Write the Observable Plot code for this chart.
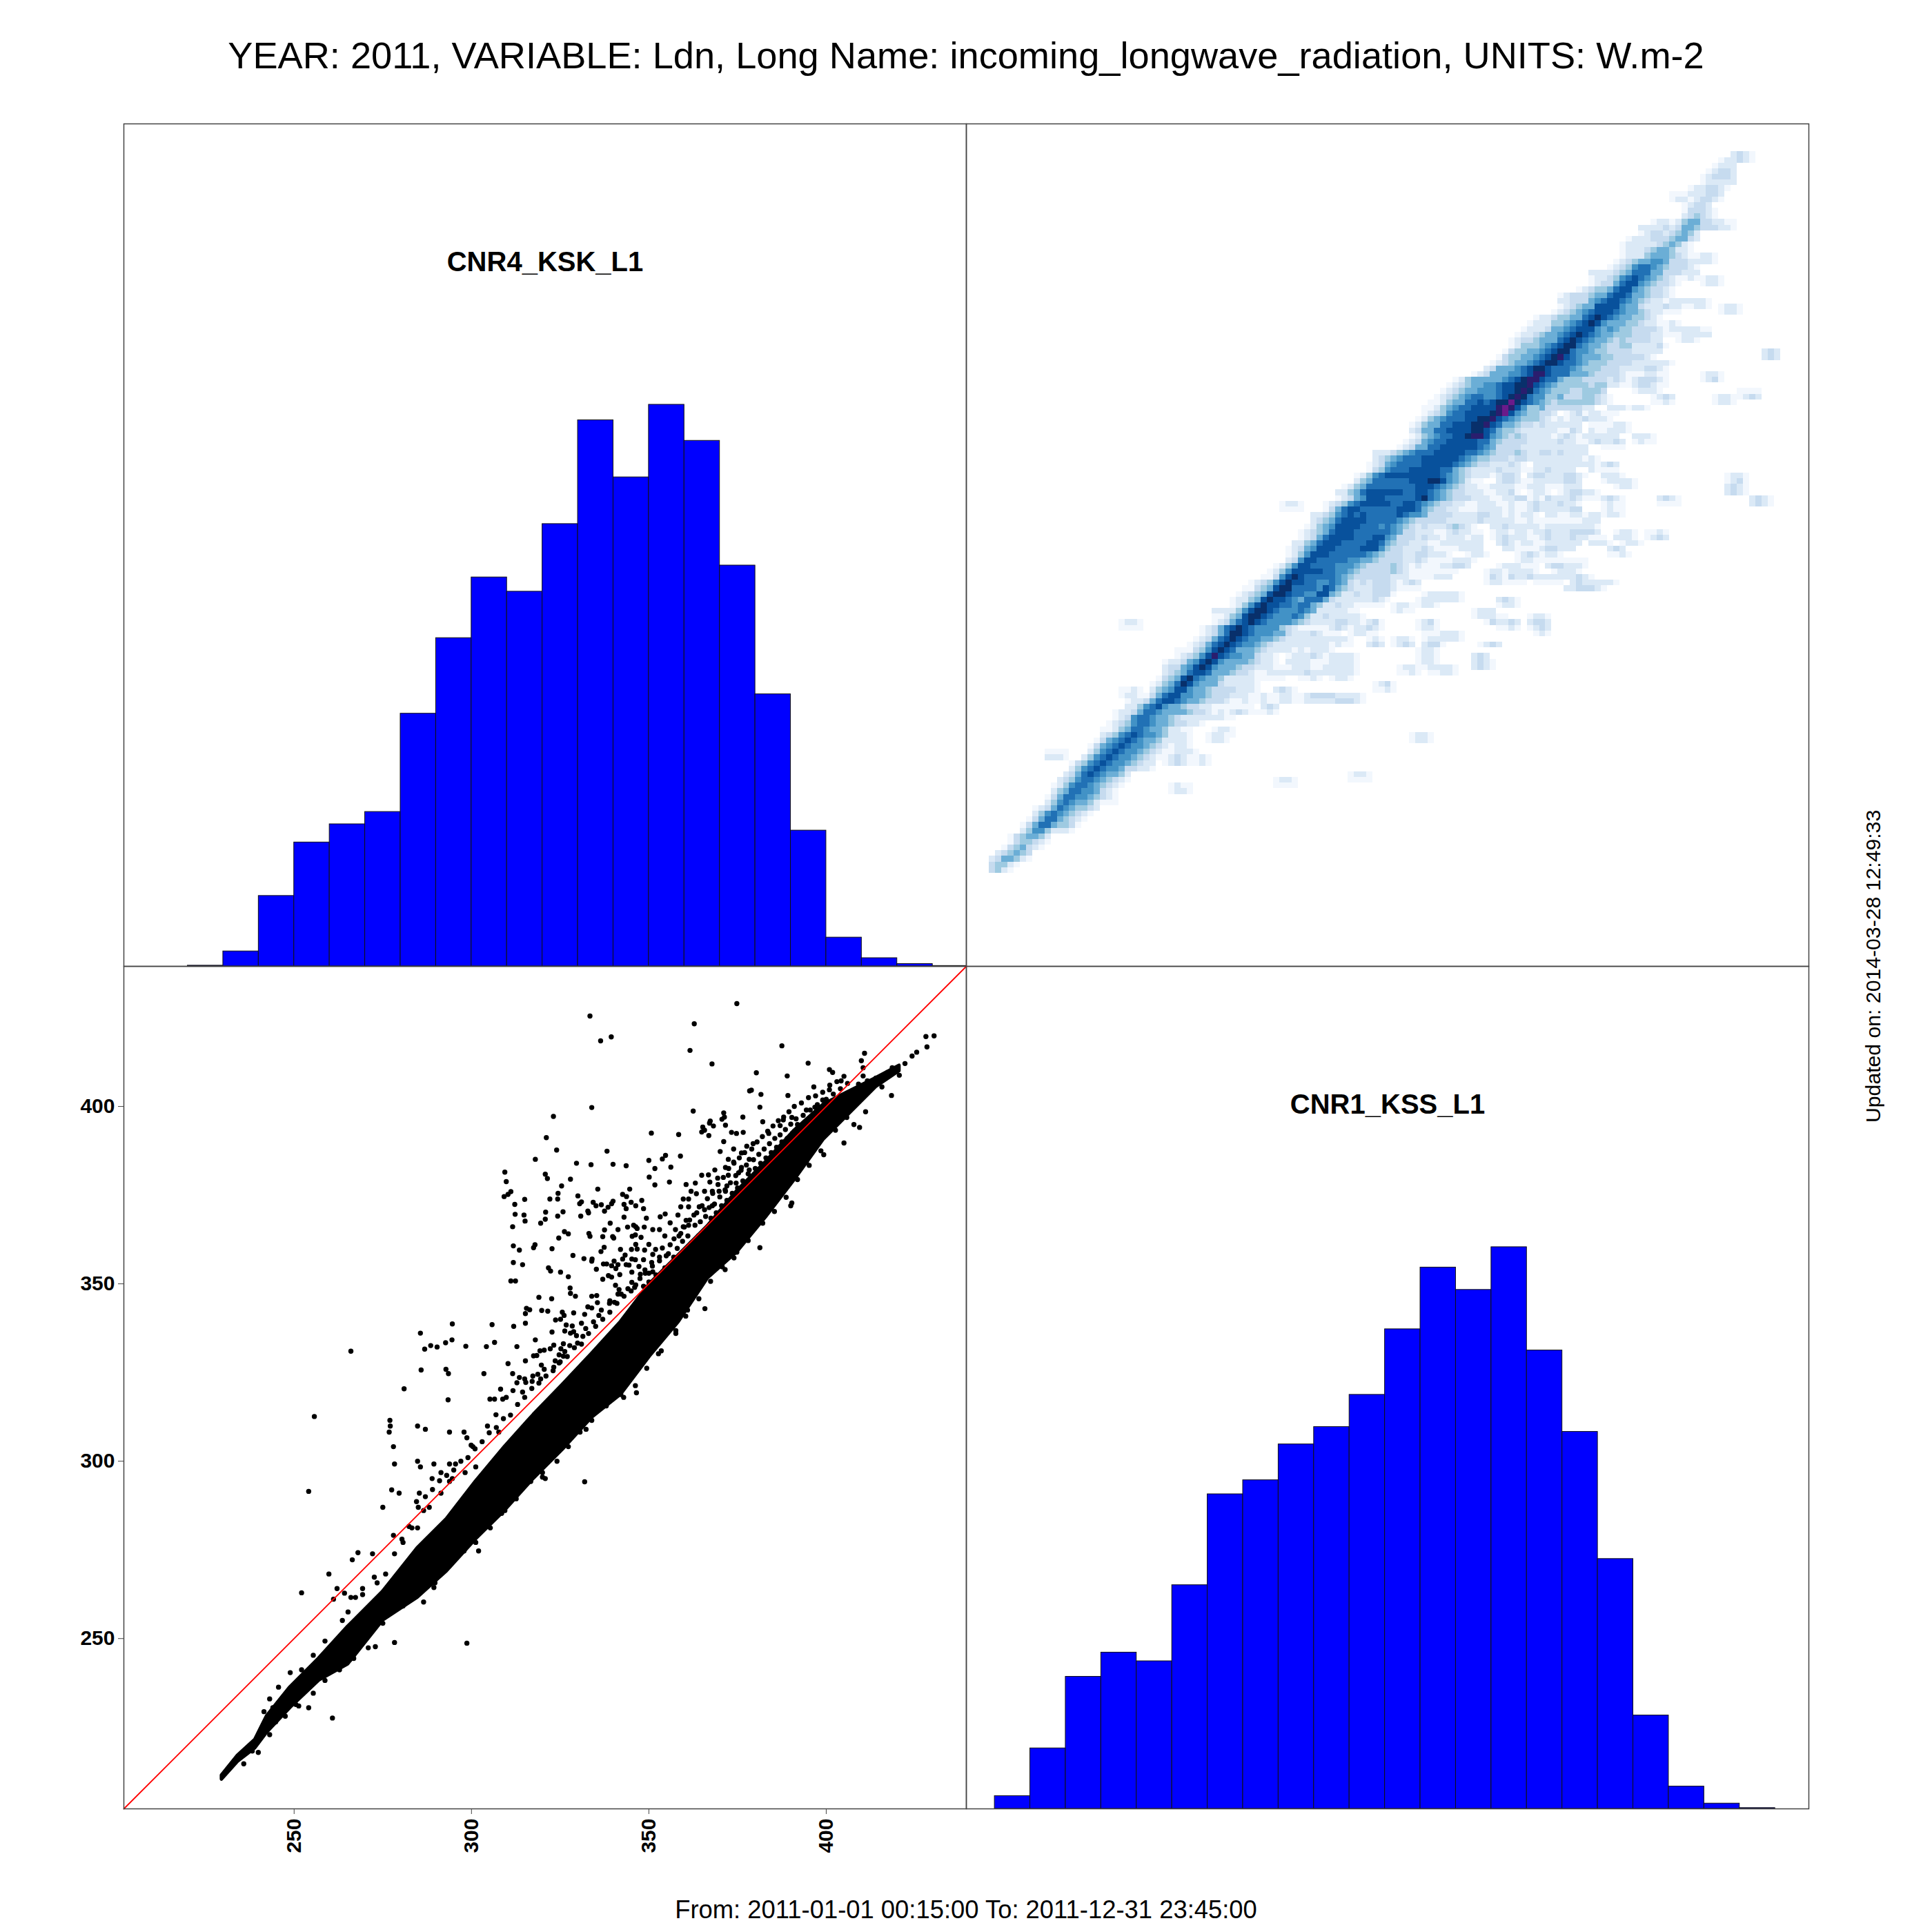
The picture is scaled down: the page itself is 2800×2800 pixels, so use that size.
<!DOCTYPE html>
<html>
<head>
<meta charset="utf-8">
<script src="https://cdn.jsdelivr.net/npm/d3@7"></script>
<script src="https://cdn.jsdelivr.net/npm/@observablehq/plot@0.6"></script>
<style>
  body { margin: 0; background: white; font-family: "Liberation Sans", sans-serif; }
  #page { position: relative; width: 2800px; height: 2800px; overflow: hidden; }
  #page svg { position: absolute; }
  .note { position: absolute; color: black; white-space: nowrap; }
</style>
</head>
<body>
<div id="page"></div>
<script>
// shared value range of both instruments, W.m-2
const valueDomain = [202, 439.5]
const tickValues = [250, 300, 350, 400]

const titleText = 'YEAR: 2011, VARIABLE: Ldn, Long Name: incoming_longwave_radiation, UNITS: W.m-2'
const periodText = 'From: 2011-01-01 00:15:00 To: 2011-12-31 23:45:00'
const updatedText = 'Updated on: 2014-03-28 12:49:33'

// histograms
const kskBins = [220,230,240,250,260,270,280,290,300,310,320,330,340,350,360,370,380,390,400,410,420,430]
const kskCounts = [5,100,469,825,946,1028,1682,2185,2589,2494,2944,3635,3255,3738,3498,2668,1811,904,192,55,16,3]
const kssBins = [210,220,230,240,250,260,270,280,290,300,310,320,330,340,350,360,370,380,390,400,410,420]
const kssCounts = [77,363,792,937,885,1341,1886,1970,2185,2289,2482,2875,3245,3111,3367,2748,2260,1498,560,134,32,5]

// scatter: envelope of the solid part of the cloud
const cloudX = [229.6,234.1,239,242.3,248.9,257,265.2,275,284.8,293,301.2,309.4,317.5,325.7,333.9,342.1,350.2,358.4,366.6,374.8,382.9,391.1,399.3,405.8,414,420.6]
const cloudLow = [210.3,215.3,219.1,223.5,230.5,238.2,242.8,255.1,261.6,269,278,286.1,295.1,303.3,312.3,318.8,329.5,339.3,351.6,358.9,368.7,379.4,390.8,397.3,405.5,410]
const cloudHigh = [211.4,217,221.5,228.1,236.3,244.4,253.4,263.2,275.5,283.7,294.3,304.1,313.1,321.6,330.3,339.3,349.9,358.1,366.3,376.1,384.3,393.3,400.6,403.9,408,411.5]

// scatter: single points outside the solid cloud [KSS, KSK]
const loosePoints = [
[333.4,425.5],[336.4,418.5],[339.4,419.6],[374.8,429],[362.8,423.3],[361.6,415.8],[367.8,412],[380.3,409.5],[378.9,404.6],[333.9,399.7],
[362.5,398.7],[323.1,397.2],[371.1,398.2],[371.3,397],[370.6,396.4],[376.5,397],[367.3,395.9],[367.1,395.3],[371.6,394.7],[368.2,394.5],
[365.2,394.2],[365.7,393.3],[364.9,392.8],[350.7,392.5],[358.4,392.1],[366.9,391.8],[373.3,392.7],[374.7,392.4],[376.6,392.7],[321.1,391.2],
[371.1,390.1],[324,387.7],[338.2,387.4],[318,385.1],[358.9,386],[354.7,386.2],[353.8,385.2],[350,384.8],[329.6,384],[333.7,383.6],
[339.9,383.7],[343.6,383.3],[356.2,382.9],[351.7,382.5],[309.4,381.5],[320.8,380.9],[321.4,379.7],[327.9,379.5],[350.1,380.1],[355.8,378.7],
[309.8,378.8],[325.4,377.6],[351.7,377.9],[335.6,376.7],[344.6,376.7],[311.1,376],[310.3,375.2],[309.2,374.6],[324.4,375.5],[322.1,373.9],
[324.3,373.9],[315,373.8],[330,374.8],[312.2,372.4],[342.6,375.2],[343.7,374.6],[331,373.1],[330.5,372.6],[334.3,373],[335.1,372],
[336.6,372.3],[339.9,373.3],[339.5,372.6],[338.5,371.6],[343,372.4],[345,373],[348,373.5],[346.3,372],[343.6,371.2],[348.5,371.2],
[337.5,370.5],[325.8,370.3],[320.9,370.2],[332.8,370.5],[333,370],[312.3,369.6],[314.8,369.4],[330.8,369.1],[324.3,369.1],[343,368.8],
[349.3,368.5],[353.2,368.9],[354.6,369.7],[320.8,368.2],[315.1,367.7],[319.5,367.1],[339.1,367.1],[311.6,366.1],[344,366],[346.3,366.1],
[348.7,366],[345.7,366.5],[346.7,365.6],[337.5,365.2],[341.3,365.3],[326.2,364.7],[327.3,364.1],[333.1,364.2],[333.4,363.4],[337,363.3],
[339.8,363.3],[340.1,362.9],[346.2,363.8],[345.3,363.4],[347.8,363.1],[324.6,362.9],[311.8,360.7],[317.9,361],[317.5,360.2],[313.5,359.5],
[322.7,359.9],[337.4,360.3],[342,359.7],[346.3,361.1],[345.1,359.7],[346.7,359.8],[348.8,359.5],[350,361.1],[336.5,359.1],[343.3,358.1],
[328.6,358],[331.7,357.1],[334,357],[333.9,356.4],[342.6,357],[345.2,357],[346.2,356.8],[311.8,356],[314.4,355.4],[340.2,356.4],
[341.3,355.4],[337.2,355.6],[338.1,355.6],[339.5,355.1],[343.6,355.4],[344.4,355.3],[321.7,354.5],[322.3,353.6],[335.2,354.1],[340.7,354.3],
[347.2,354.9],[348.9,353.9],[325.1,353.3],[345.2,353.3],[347.6,352.7],[341.8,352.6],[327.3,352],[338.6,352.3],[339.5,351.9],[337,351.3],
[311.1,350.8],[312.4,350.8],[340.6,349.6],[327.8,348.8],[341.6,348.4],[327.9,347.3],[329.3,346.5],[333.9,346.5],[335.3,346.7],[341.3,347.1],
[342.2,347.1],[319,346.2],[322.6,345.8],[339,345.2],[335.5,344.7],[332.8,343.5],[333.9,343.2],[315.5,343.1],[316.4,342.7],[319.8,342.5],
[321.5,342.3],[325.6,342],[315.2,341.6],[328.8,341.8],[326.1,341.1],[331.9,341.4],[323.7,339.8],[325.1,340],[331,338.9],[315.2,338.9],
[326.7,338.4],[328.4,338.1],[311.9,338],[305.8,338.5],[294.6,338.7],[285.6,336.1],[326.3,336.7],[322.7,336.4],[327.9,336.1],[328.8,336.5],
[329.6,335.4],[294.5,334.2],[292.7,333.4],[318,334.2],[306.5,333.5],[288.5,332.6],[290.3,332.2],[286.8,331.6],[298.4,332.4],[304.2,332.3],
[312.8,332.3],[266,331],[323.2,332.7],[325.9,333.1],[327.7,332.6],[325.2,331.7],[322.2,331.7],[320.5,331.3],[319.3,331.1],[326.3,330.9],
[317.5,329.7],[318.4,329.8],[324.7,330],[325.9,329.6],[315.2,328.3],[323.6,328.3],[324.7,327.7],[310.3,327.5],[319.7,327.1],[285.8,325.7],
[292.8,325.9],[293.5,324.7],[303.5,324.7],[311.6,324.7],[320.5,325.9],[323.2,326.5],[281,320.4],[313.5,323.6],[315,323.2],[317.3,324],
[318.7,324.5],[312.8,322.1],[315.3,322.2],[317.1,322.5],[319.5,323.2],[308.2,320.3],[311.7,319.9],[314.4,319.5],[293.4,317.3],[305.2,317.5],
[306.5,317.5],[308.8,317.5],[309.8,318],[360.5,378],[363.1,378.4],[361.9,376.1],[364.9,380.6],[366.8,380.7],[368.6,382.1],[367.2,378.7],
[359.7,373.9],[361.2,373.9],[363.4,375.4],[365.7,376.1],[359,371.7],[361.2,371.7],[364.2,371.7],[367.9,372],[365.7,370.9],[358.2,369.4],
[360.5,367.9],[362.7,369.4],[356,367.2],[357.5,365.3],[359.7,366.1],[354.5,363.5],[357.1,362.7],[359,364.2],[361.2,366.5],[353,365.3],
[351.1,365.3],[353.8,360.1],[351.1,358.3],[353,357.5],[351.9,359.7],[354.9,357.9],[350.8,356],[348.5,356.8],[350,353],[351.1,353.4],
[345.2,350.4],[346.3,349.7],[348.5,349.3],[344.1,348.6],[370.1,387.3],[372.4,385.1],[373.9,388],[376.1,386.9],[377.6,388.8],[379.4,389.5],
[371.6,382.8],[373.9,384.3],[376.1,382.8],[378.3,385.1],[369.4,379.8],[372.4,380.6],[375.3,381.3],[378.3,382.1],[371.6,376.1],[367.9,376.1],
[369.8,376.1],[372,377.6],[377.6,378.4],[374.6,378.4],[335.9,341.1],[334.4,339.3],[332.2,337.4],[331.4,335.2],[329.9,333.3],[336.6,342.6],
[338.9,344.5],[340.3,344.8],[387.5,417.1],[394.9,412.2],[389,408.6],[381.6,403.4],[378.4,404.4],[389.2,403.1],[400.9,410.4],[401.8,409.6],
[410.8,415],[409.9,412.9],[410.4,410.9],[410.4,408.6],[404.2,407.2],[409.1,406.3],[399,401.8],[400.9,404.7],[396.5,405.5],[381.3,399.8],
[394.4,399],[387.9,396.2],[390.3,396.9],[382.1,395.7],[387,394.6],[396.8,399.8],[391.9,394.9],[383.8,392.4],[430.4,419.9],[428.1,419.7],
[428.4,416.8],[425.5,415.3],[424.2,414.2],[422.2,412.1],[418.6,410.9],[420.6,408.8],[417.3,409.6],[414,408],[411.6,407.2],[415.7,405.5],
[418.4,403.1],[411.1,398.5],[405,389.7],[407.8,394.9],[409.4,394.1],[399.3,386.4],[394.4,384.3],[391.9,381.8],[390.3,372.8],[390,372],
[381.3,360.2],[377.2,363],[374,357.3],[371.5,354],[365.8,343],[360.4,340.9],[357.6,336],[352.7,330.3],[346.5,319.3],[342.9,318],
[334.7,313.9],[332.3,309],[331.9,294.2],[320.8,295.1],[320,295.5],[327.3,305.8],[309.4,286.1],[305.3,282.9],[302,274.7],[291.4,268.6],
[289.4,264.4],[286.5,260.3],[280.7,259.2],[278.3,248.9],[272.9,247.7],[298.7,248.7],[260.8,227.6],[254.1,230.5],[250.5,231.4],[244.8,226.5],
[238.2,218.3],[252.1,262.9],[259.8,268.2],[261.1,261.1],[262.1,264.1],[264.2,262.8],[266,261.6],[267.3,261.6],[268,274.2],[266.4,272.2],
[272.1,273.9],[273.4,265.7],[269.3,262.4],[275,287],[277.5,291.9],[279.6,291],[278,279.1],[280.4,278],[284.5,288.6],[285.3,291],
[282.4,281.6],[284.8,281.2],[286.5,286.1],[288.9,295.1],[291.4,296.8],[293.8,294.3],[295.5,299.2],[300.4,304.1],[298.2,296.8],[293.8,299.2],
[289.4,299.2],[284.8,300],[285.6,298.4],[278.3,299.2],[278,304.1],[277,311.5],[277.1,309.9],[276.8,308.2],[284.8,309.9],[287,309],
[255.7,312.6],[254.1,291.5],[304.5,309.9],[297.9,308.2],[299.9,304.5],[298.7,306.6],[293.8,308.2],[306.9,313.1],[307.7,308.2],[301.2,298.4],
[294.6,295.1],[291.4,291],[288.1,287],[283.2,281.2],[280.7,277.1],[278.3,273.9],[275.8,268.2],[272.6,267.3],[269.3,264.1],[265.2,257.5],
[263.6,255.1],[258.7,249.3],[255.4,245.3],[252.1,241.2],[248.9,240.4],[245.6,236.3],[243.1,233],[241.5,229.4],[244,230.5]
]

// scatter: lower fringe of the cloud
const lowerFringe = [
[235.8,214.7],[239.9,217.9],[243.1,222.9],[247.5,228.1],[251.3,231],[255.4,234.6],[258.7,238.2],[262.8,241.2],[266.8,244.4],[270.9,247.4],
[275,254.3],[278.3,258.3],[282.4,260.8],[285.6,263.2],[289.7,265.7],[293.8,270.6],[297.9,274.7],[301.2,277.1],[305.3,281.2],[308.5,285.3],
[312.6,289.4],[316.7,294.3],[320,296.8],[324.1,300],[327.3,304.1],[330.6,308.2],[333.9,311.5],[338,315.6],[342.1,318.8],[346.2,321.3],
[349.4,326.2],[353.5,331.1],[357.6,336.8],[360.9,342.6],[364.1,345.8],[367.4,350.7],[370.7,354.8],[374.8,358.9],[378,362.2],[382.1,367.1],
[385.4,370.4],[388.7,374.4],[391.9,379.4],[395.2,383.4],[398.5,387.5],[402.6,393.3],[405.8,396.9]
]

// scatter: dense speckle just above the 1:1 line
const upperFringe = [
[285,287],[287,290],[289,292],[291,294.5],[293,296],[295,297.5],[297,300],[299,301],[301,303.5],[303,305.5],[305,308],[307,309.5],
[309,312],[311,313],[313,316],[315,318],[317,320.5],[319,322],[321,324],[323,325.5],[325,328],[327,329.5],[329,332],[331,333],
[333,336],[335,338],[337,340],[339,342],[341,344.5],[343,346.5],[345,348],[346,349],[347.5,351.5],[349,353],[350,350.5],[351,355],
[352,352.5],[353,356.5],[354.5,354.5],[355.5,358.5],[356,361],[357,357.5],[358,360],[358.5,363.5],[359.5,362],[360,366],[361,363.5],
[361.5,368],[362,361.5],[363,366.5],[363.5,370],[364,363.5],[364.5,367.5],[365,372],[366,369],[366.5,374],[367,371.5],[367.5,368.5],
[368,375.5],[368.5,372.5],[369,370],[369.5,378],[370,374.5],[370.5,372],[371,380],[371.5,376.5],[372,373.5],[372.5,382.5],[373,378.5],
[373.5,375.5],[374,384],[374.5,380.5],[375,377],[375.5,385.5],[376,382],[376.5,379],[377,387],[377.5,383.5],[378,381],[378.5,379.5],
[379,388],[379.5,385],[380,382.5],[380.5,390],[381,386.5],[381.5,384],[382,391.5],[382.5,388],[383,385.5],[383.5,393],[384,389.5],
[384.5,387],[385,394.5],[385.5,391],[386,388.5],[386.5,396],[387,392],[387.5,390],[388,397],[388.5,393.5],[389,391],[389.5,398.5],
[390,395],[390.5,392.5],[391,400],[391.5,396.5],[392,394],[393,401],[393.5,397.5],[394,395.5],[395,402.5],[395.5,399],[396,397],
[397,403],[397.5,400.5],[398,398.5],[399,404],[400,402],[401,406],[402,403.5],[403,407],[404,405],[405,408.5],[406,406.5]
]

// density image: 128 x 128 grid, one hex digit per cell = colour level, 0 = empty
const gridStartX = 208.42
const gridStartY = 228.26
const gridStepX = 1.743
const gridStepY = 1.589
const densityLevels = [1,2,3,4,5,6,7,8,9,10,11]
const densityColors = ['#f2f7fd','#dbe9f6','#c6dbef','#9ecae1','#6baed6','#4292c6','#2171b5','#08519c','#08306b','#2a1e6e','#6a1b8a']

// [row from bottom, first column, levels]
const densityRows = [
[0,0,'3421'],[1,0,'34421'],[2,0,'2355421'],[3,1,'234543'],[4,2,'1345321'],[5,3,'1344321'],[6,3,'1345542'],
[7,5,'246642221'],[8,5,'1357754431'],[9,6,'1357754321'],[10,7,'2467654321'],[11,7,'12357654432'],
[12,9,'246765542111'],[13,9,'135776654321'],
[14,10,'24577665321'],[14,29,'1221'],
[15,10,'124677654321'],[15,29,'1211'],[15,46,'1111'],
[16,11,'234677654321'],[16,46,'1221'],[16,58,'1111'],
[17,12,'23578765542'],[17,58,'1221'],
[18,13,'24678766533221'],
[19,13,'13467876654322012321121'],
[20,9,'2221'],[20,15,'246787665432112321121'],
[21,9,'1111'],[21,16,'246787665432112221'],
[22,16,'13567876654321221'],
[23,17,'1356787655422221'],[23,35,'1221'],[23,68,'1221'],
[24,18,'234678766542221'],[24,35,'12211'],[24,68,'1221'],
[25,18,'112457765542211'],[25,36,'1221'],
[26,19,'1234677655433221'],
[27,20,'12367765543222222211'],
[28,20,'122357765555433212123211121'],
[29,22,'224678655433221111111'],[29,44,'232'],
[30,22,'122357887655433321121'],[30,43,'121122112222233321'],
[31,21,'1221135788665543332221'],[31,43,'121122112333322221'],
[32,21,'1121024568865543333222'],[32,43,'1002321'],[32,62,'1121'],
[33,26,'12457986555322222'],[33,43,'1'],[33,62,'1231'],
[34,27,'1345897655422222'],[34,43,'1111100112101221'],
[35,28,'234578875554332'],[35,43,'11222222322222221'],[35,66,'1121'],[35,71,'11221'],
[36,28,'233568986555433'],[36,43,'22211122211222221'],[36,66,'1221122221'],[36,78,'2321'],
[37,28,'122356898655554'],[37,43,'32210222211122221'],[37,69,'1221'],[37,78,'2321'],
[38,30,'123468a87665532210122232122221'],[38,69,'1221'],[38,78,'232'],
[39,30,'11134689875554322221212221'],[39,69,'1221'],
[40,32,'123578987665432222222221211'],[40,61,'232'],[40,65,'1232'],[40,70,'2331'],[40,79,'1232'],
[41,33,'12357898766554322222222221'],[41,61,'121'],[41,65,'1221'],[41,70,'1222221'],
[42,34,'12357998766655322232111012211'],[42,70,'1112221'],[42,88,'121'],
[43,21,'1111'],[43,34,'123578987666643211111232122321'],[43,69,'1221'],[43,82,'1121'],[43,87,'1232'],
[44,21,'1221'],[44,36,'1235789876666543222233221231'],[44,69,'1231'],[44,80,'132232'],[44,87,'2332'],
[45,36,'1124589987666764223222221'],[45,78,'122211'],[45,87,'1221'],
[46,36,'222246899876667652222211'],[46,65,'1211'],[46,78,'1222'],
[47,39,'1246898877677542232211111'],[47,65,'12211221'],[47,82,'1221'],
[48,39,'12245898876577753222222321'],[48,69,'12222221'],[48,82,'2321'],
[49,40,'12345899877668854223223331'],[49,70,'1222221'],
[50,41,'11345899777768754322233321111'],[50,93,'2233321'],
[51,42,'1234689887766765323233321232'],[51,80,'1221111011111023222221'],
[52,44,'1136898777776543333332221111222'],[52,80,'132132232222222321'],
[53,45,'1246888887766543333343211111111'],[53,80,'1221222210012221'],
[54,46,'12468877776665433334321211122332'],[54,82,'122211102332221'],
[55,48,'2368877777665543333223211112221'],[55,85,'122111111111'],
[56,48,'124688877777765433322332221001221'],[56,85,'12321221'],[56,100,'1121'],
[57,48,'12356888777788864332223211112222'],[57,83,'221111233222'],[57,100,'232'],
[58,49,'2245788877778875433222112222222'],[58,82,'23212211222222'],[58,97,'222101221'],
[59,50,'1235788887778865333232212221220123222112322232'],[59,96,'21110222101232'],
[60,50,'1234578887777776533222112322110122122122322233'],[60,96,'33200122101121'],
[61,51,'124568888777676543232223432100223222221222222'],[61,96,'221'],
[62,52,'23457888877777654333332222232222211211111111'],[62,96,'222'],
[63,52,'22346787877777876653333222233221212210221122'],[63,96,'1221221'],
[64,47,'1111'],[64,54,'135788777777888754332211122221211232222233'],[64,99,'1211'],
[65,47,'1221'],[65,54,'123467888887788765433221122211211232223221'],[65,99,'1211'],[65,108,'1111'],[65,123,'2321'],
[66,56,'12356888777778976543332221122331213222321'],[66,97,'112321'],[66,108,'2321'],[66,123,'2321'],
[67,56,'22457888888778876543322211223101221012332'],[67,96,'221'],[67,119,'2321'],
[68,57,'124577777777888765432211222211222111222'],[68,101,'1221'],[68,119,'2321'],
[69,59,'2457777778889986542110023321122222332'],[69,99,'122221'],[69,119,'1231'],
[70,59,'12467888888888765432221233202332223321'],[70,99,'2221'],[70,119,'1221'],
[71,61,'13467778888877543222232221122322 22'.split(' ').join('')],[71,97,'21111'],
[72,61,'12356777788888765433222321022222222'],[72,96,'221232'],
[73,62,'23456777888888765443332332222222221'],[73,97,'21'],
[74,62,'22234567778888877654333432233232222'],
[75,66,'1235577888888765333322222222222'],[75,99,'1111'],
[76,67,'123567788888775433332222232211'],[76,97,'232232'],[76,104,'1211'],
[77,68,'1245677889aa8654343222212321'],[77,96,'222222'],[77,104,'2221'],
[78,68,'2355778888998754432222221132'],[78,97,'2112221'],
[79,68,'124557788899a875543323222222'],[79,97,'1111221'],
[80,69,'124567778899a876544432121223'],[80,97,'2221'],
[81,70,'123467788889ab8654433201231'],[81,97,'22111'],
[82,70,'112456778888aba86445333333 22'.split(' ').join('')],[82,100,'2221221'],
[83,71,'1124557787899b9876543444444321'],[83,107,'1121'],[83,117,'1221'],
[84,72,'1234567766789a976644533344321'],[84,107,'1232'],[84,117,'12211232'],
[85,73,'1234556667889a9765444334443'],[85,104,'12221'],[85,121,'1111'],
[86,74,'1234556678899a8765444443442211233211'],
[87,75,'124555556789aa877544433332321233321'],[87,115,'1231'],
[88,78,'1235556678aa87775554333321112211'],[88,115,'1221'],
[89,80,'235556789987776544433322223321'],
[90,81,'123455678998776544433332222221'],
[91,82,'1344556789a876555443333321'],[91,125,'232'],
[92,83,'13445567899766544333322222'],[92,125,'232'],
[93,84,'12444567899765543344222231'],
[94,84,'1233455578987655434333322'],[94,111,'1221'],
[95,85,'12234556789876554443332211122222'],
[96,86,'1222355678886565443333212222211'],
[97,87,'1222445678986555443221121'],
[98,88,'122344557898765544321'],
[99,91,'123456788876554322111'],[99,118,'1221'],
[100,92,'1234558888655322232211221'],[100,118,'1221'],
[101,92,'2233356788765432212222221'],
[102,92,'1233345578875543321'],
[103,95,'1234457886543321'],
[104,97,'123357886543321'],[104,115,'1221'],
[105,97,'1223467876543211211221'],
[106,97,'222234577755333222'],
[107,100,'123467765433321'],
[108,101,'12345566533322221'],
[109,102,'1222455543211221'],
[110,102,'122234554221'],
[111,102,'122222345421'],
[112,103,'122233345532'],
[113,105,'1233234542'],
[114,105,'2222323554333221'],
[115,107,'12212455332211'],
[116,112,'234321'],[117,112,'133321'],[118,112,'12332'],
[119,110,'122123321'],[120,110,'111222332'],[121,113,'1223321'],
[122,115,'122222'],[123,115,'123332'],[124,116,'12332'],[125,117,'1222'],
[126,118,'122321'],[127,120,'2321']
]

// cells of the density image
const densityCells = densityRows.flatMap(([row, col, digits]) =>
    [...digits].map((ch, i) => ({ col: col + i, row, level: parseInt(ch, 16) }))
        .filter(d => d.level > 0)
)

const page = document.getElementById('page')

function addNote(text, css) {
    const div = document.createElement('div')
    div.className = 'note'
    div.textContent = text
    Object.assign(div.style, css)
    page.appendChild(div)
}

function addPanel(left, top, options) {
    const svg = Plot.plot({
        marginTop: 1, marginRight: 1, marginBottom: 1, marginLeft: 1,
        width: 1223,
        height: 1223,
        style: { background: 'none', fontFamily: '"Liberation Sans", sans-serif', overflow: 'visible' },
        ...options
    })
    svg.style.left = left + 'px'
    svg.style.top = top + 'px'
    page.appendChild(svg)
}

function histogramPanel(left, top, bins, counts, yMax, name) {
    const bars = bins.map((b, i) => ({ from: b, to: b + 10, count: counts[i] }))
    addPanel(left, top, {
        x: { domain: valueDomain, axis: null },
        y: { domain: [0, yMax], axis: null },
        marks: [
            Plot.rectY(bars, { x1: 'from', x2: 'to', y: 'count', fill: '#0000ff', stroke: '#111', strokeWidth: 1, clip: true }),
            Plot.text([name], { frameAnchor: 'top', dy: 201, fontSize: 40, fontWeight: 'bold', fill: 'black', lineAnchor: 'middle' }),
            Plot.frame({ stroke: '#444', strokeWidth: 1.5 })
        ]
    })
}

histogramPanel(178, 178, kskBins, kskCounts, 5607, 'CNR4_KSK_L1')
histogramPanel(1399, 1399, kssBins, kssCounts, 5050, 'CNR1_KSS_L1')

// upper right: density image
addPanel(1399, 178, {
    x: { domain: valueDomain, axis: null },
    y: { domain: valueDomain, axis: null },
    color: { type: 'ordinal', domain: densityLevels, range: densityColors },
    marks: [
        Plot.rect(densityCells, {
            x1: d => gridStartX + d.col * gridStepX,
            x2: d => gridStartX + (d.col + 1) * gridStepX,
            y1: d => gridStartY + d.row * gridStepY,
            y2: d => gridStartY + (d.row + 1) * gridStepY,
            fill: 'level',
            shapeRendering: 'crispEdges'
        }),
        Plot.frame({ stroke: '#444', strokeWidth: 1.5 })
    ]
})

// lower left: scatter with 1:1 line
addPanel(0, 1399, {
    width: 1401,
    height: 1332,
    marginLeft: 179,
    marginBottom: 110,
    x: { domain: valueDomain },
    y: { domain: valueDomain },
    marks: [
        Plot.areaY(cloudX.map((x, i) => ({ x, low: cloudLow[i], high: cloudHigh[i] })), {
            x: 'x', y1: 'low', y2: 'high', fill: 'black', stroke: 'black', strokeWidth: 5
        }),
        Plot.dot(loosePoints.concat(lowerFringe, upperFringe), { x: d => d[0], y: d => d[1], r: 3.7, fill: 'black' }),
        Plot.line(valueDomain, { x: d => d, y: d => d, stroke: '#ff0000', strokeWidth: 1.8 }),
        Plot.axisX({
            ticks: tickValues, tickSize: 8, tickPadding: 6, tickRotate: -90, label: null,
            fontSize: 30, fontWeight: 'bold', fill: 'black', stroke: '#444'
        }),
        Plot.axisY({
            ticks: tickValues, tickSize: 8, tickPadding: 5, label: null,
            fontSize: 30, fontWeight: 'bold', fill: 'black', stroke: '#444'
        }),
        Plot.frame({ stroke: '#444', strokeWidth: 1.5 })
    ]
})

addNote(titleText, { left: '0', width: '2800px', top: '46px', textAlign: 'center', fontSize: '54.2px', lineHeight: '68px' })
addNote(periodText, { left: '0', width: '2800px', top: '2746px', textAlign: 'center', fontSize: '36.4px', lineHeight: '44px' })
addNote(updatedText, {
    left: '2693px', top: '1173px', height: '454px', lineHeight: '44px', fontSize: '30.2px',
    writingMode: 'vertical-rl', transform: 'rotate(180deg)'
})
</script>
</body>
</html>
